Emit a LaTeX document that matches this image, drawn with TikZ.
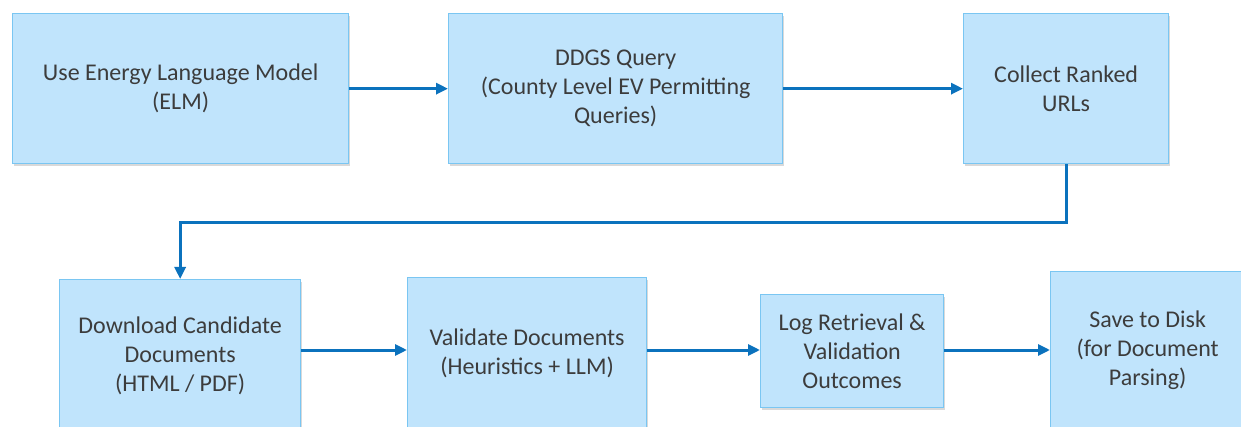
\documentclass[tikz,border=0pt]{standalone}
\usepackage{fontspec}
\setmainfont{Carlito}
\usetikzlibrary{arrows.meta,shadows,positioning}
\definecolor{boxfill}{HTML}{C0E4FC}
\definecolor{boxline}{HTML}{7AC6F2}
\definecolor{arrowc}{HTML}{0B72BD}
\definecolor{txt}{HTML}{3C3C3C}
\begin{document}
\begin{tikzpicture}[x=1pt,y=-1pt,
  procbox/.style={draw=boxline, line width=1.3pt, fill=boxfill, rectangle,
    anchor=north west, inner sep=0pt, align=center, text=txt,
    font=\fontsize{24}{29}\selectfont,
    drop shadow={shadow xshift=1.5pt, shadow yshift=-2.5pt, opacity=0.25, fill=black!60}},
  arr/.style={draw=arrowc, line width=3pt, -{Triangle[length=12pt,width=11pt]}}]
\useasboundingbox (0,0) rectangle (1241,427);
\clip (0,0) rectangle (1241,427);
\node[procbox, minimum width=336pt, minimum height=150pt] (elm) at (12,13)
  {Use Energy Language Model\\(ELM)};
\node[procbox, minimum width=334pt, minimum height=150pt] (ddgs) at (448,13)
  {DDGS Query\\(County Level EV Permitting\\Queries)};
\node[procbox, minimum width=205pt, minimum height=150pt] (cr) at (963,13)
  {Collect Ranked\\URLs};
\node[procbox, minimum width=241pt, minimum height=152pt] (dl) at (59,279)
  {Download Candidate\\Documents\\(HTML / PDF)};
\node[procbox, minimum width=239pt, minimum height=152pt] (vd) at (407,277)
  {Validate Documents\\(Heuristics + LLM)};
\node[procbox, minimum width=183pt, minimum height=113pt] (lg) at (760,294)
  {Log Retrieval \&\\Validation\\Outcomes};
\node[procbox, minimum width=194pt, minimum height=158pt] (sv) at (1050,271)
  {Save to Disk\\(for Document\\Parsing)};
\draw[arr] (elm.east) -- (ddgs.west);
\draw[arr] (ddgs.east) -- (cr.west);
\draw[arr] (cr.south) -- ++(0,58) -| (dl.north);
\draw[arr] (dl.east |- 0,350) -- (vd.west |- 0,350);
\draw[arr] (vd.east |- 0,350) -- (lg.west |- 0,350);
\draw[arr] (lg.east |- 0,350) -- (sv.west |- 0,350);
\end{tikzpicture}
\end{document}
